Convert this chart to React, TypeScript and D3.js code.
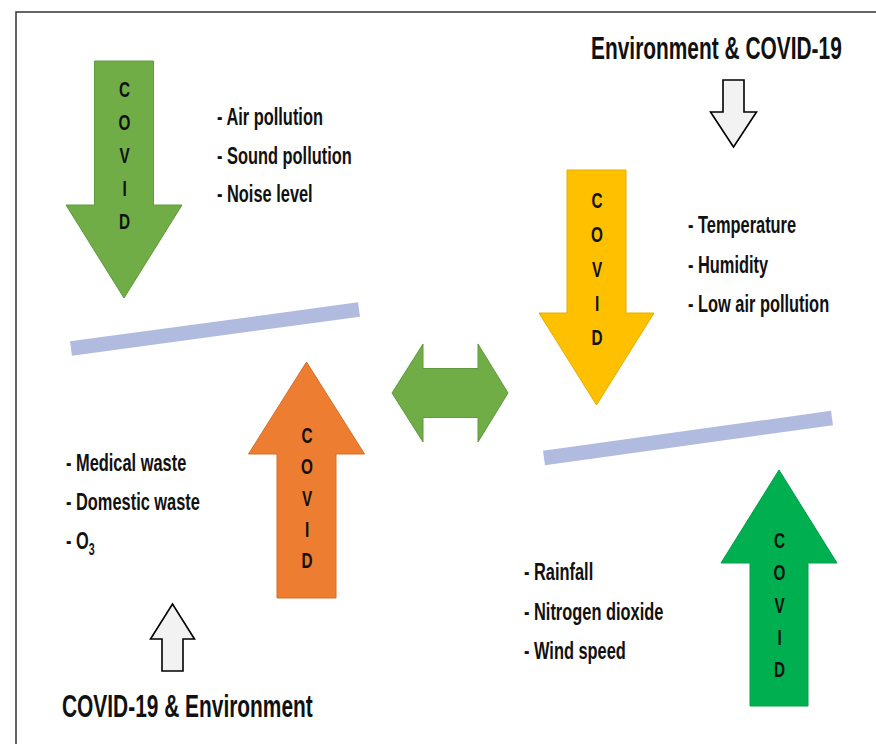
import React from 'react';
import * as d3 from 'd3';

// labels
const arrowLetters = ['C', 'O', 'V', 'I', 'D'];
const topLeftFactors = ['Air pollution', 'Sound pollution', 'Noise level'];
const topRightFactors = ['Temperature', 'Humidity', 'Low air pollution'];
const bottomLeftFactors = ['Medical waste', 'Domestic waste', 'O|3'];
const bottomRightFactors = ['Rainfall', 'Nitrogen dioxide', 'Wind speed'];
const titleTop = 'Environment & COVID-19';
const titleBottom = 'COVID-19 & Environment';

const W = 876;
const H = 744;
const FONT = '"Liberation Sans", Arial, sans-serif';
// no narrow face installed, so squeeze the bold face instead
const SX = 0.82;
const SY = 1.2;

// vertical block arrow: cx, shaft half width, head half width, tail y, head base y, tip y
const blockArrow = (cx, sw, hw, tail, base, tip) =>
  d3.line()([
    [cx - sw, tail],
    [cx - sw, base],
    [cx - hw, base],
    [cx, tip],
    [cx + hw, base],
    [cx + sw, base],
    [cx + sw, tail],
  ]) + 'Z';

const doubleArrow = (x0, x1, xi0, xi1, cy, hh, sh) =>
  d3.line()([
    [x0, cy],
    [xi0, cy - hh],
    [xi0, cy - sh],
    [xi1, cy - sh],
    [xi1, cy - hh],
    [x1, cy],
    [xi1, cy + hh],
    [xi1, cy + sh],
    [xi0, cy + sh],
    [xi0, cy + hh],
  ]) + 'Z';

const arrows = [
  { cx: 124, d: blockArrow(124, 29.5, 58, 61, 205, 298), fill: '#70AD47', stroke: '#5f9a3c', y0: 97, y1: 229 },
  { cx: 596.5, d: blockArrow(596.5, 29.5, 57.5, 170, 313, 405), fill: '#FFC000', stroke: '#e6ad00', y0: 208, y1: 345 },
  { cx: 306.5, d: blockArrow(306.5, 29.5, 58, 598, 454, 362), fill: '#ED7D31', stroke: '#d96d25', y0: 443, y1: 568 },
  { cx: 779, d: blockArrow(779, 29, 58, 706, 563, 470), fill: '#00B050', stroke: '#00a048', y0: 548, y1: 677 },
];

const Txt = ({ x, y, size, anchor = 'start', sx = SX, sy = SY, children }) => (
  <text
    transform={`translate(${x},${y}) scale(${sx},${sy})`}
    fontFamily={FONT}
    fontWeight="bold"
    fontSize={size}
    textAnchor={anchor}
    fill="#111"
  >
    {children}
  </text>
);

const FactorList = ({ items, x, y0, step }) => (
  <g>
    {items.map((s, i) => {
      const [main, sub] = s.split('|');
      return (
        <Txt key={s} x={x} y={y0 + i * step} size={20}>
          {'- ' + main}
          {sub && (
            <tspan fontSize={13} dy={5}>
              {sub}
            </tspan>
          )}
        </Txt>
      );
    })}
  </g>
);

const App = () => {
  const letterY = (a) => d3.scalePoint().domain(arrowLetters).range([a.y0, a.y1]);

  return (
    <svg
      width={W}
      height={H}
      style={{ position: 'fixed', left: 0, top: 0, background: '#fff' }}
    >
      <rect width={W} height={H} fill="#fff" />
      <path d="M16,744 V12 H876" fill="none" stroke="#333" strokeWidth={1.5} />

      {/* slanted bars */}
      <line x1={71} y1={348.5} x2={359} y2={309.5} stroke="#B1BBE0" strokeWidth={14.5} />
      <line x1={544} y1={458} x2={832} y2={418} stroke="#B1BBE0" strokeWidth={14.5} />

      {arrows.map((a, k) => {
        const y = letterY(a);
        return (
          <g key={k}>
            <path d={a.d} fill={a.fill} stroke={a.stroke} strokeWidth={1} />
            {arrowLetters.map((l) => (
              <Txt key={l} x={a.cx + 0.5} y={y(l)} size={18} sx={0.85} sy={1.2} anchor="middle">
                {l}
              </Txt>
            ))}
          </g>
        );
      })}

      <path d={doubleArrow(392, 508, 423, 478, 393, 49, 24.5)} fill="#70AD47" stroke="#5f9a3c" strokeWidth={1} />

      {/* small outline arrows */}
      <path d={blockArrow(733.5, 10.5, 23, 80, 112, 147)} fill="#F2F2F2" stroke="#000" strokeWidth={1.6} />
      <path d={blockArrow(172.5, 10.5, 22, 671, 639, 604)} fill="#F2F2F2" stroke="#000" strokeWidth={1.6} />

      <Txt x={591} y={59} size={25.5} sy={1.25}>{titleTop}</Txt>
      <Txt x={62} y={717} size={25.5} sy={1.2}>{titleBottom}</Txt>

      <FactorList items={topLeftFactors} x={217} y0={125} step={38.5} />
      <FactorList items={topRightFactors} x={688} y0={233} step={39.5} />
      <FactorList items={bottomLeftFactors} x={66} y0={471} step={39} />
      <FactorList items={bottomRightFactors} x={524} y0={580} step={39.5} />
    </svg>
  );
};

export default App;
